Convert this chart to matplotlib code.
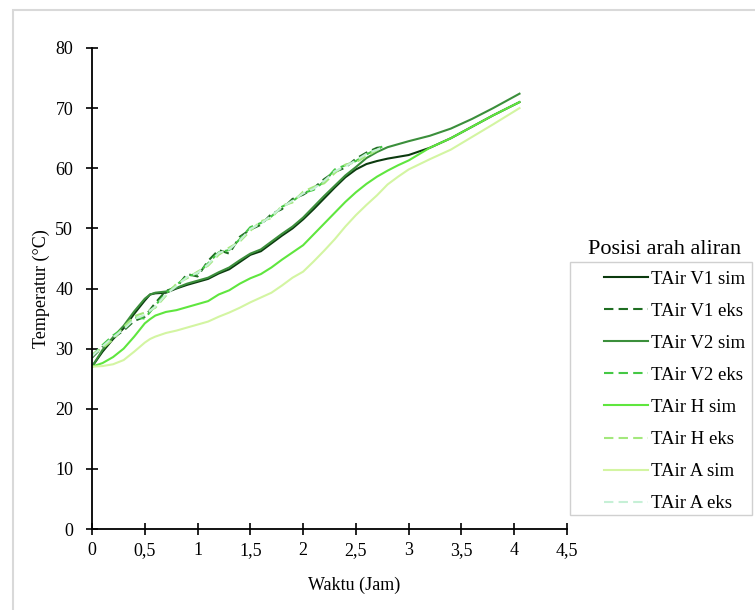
import matplotlib
matplotlib.use("Agg")
import matplotlib.pyplot as plt
from matplotlib.patches import Rectangle

plt.rcParams['font.family'] = ['Liberation Serif', 'DejaVu Serif']

# waktu (jam) untuk kurva simulasi
t_sim = [0, 0.1, 0.2, 0.3, 0.4, 0.5, 0.55, 0.6, 0.7, 0.8, 0.9, 1.0, 1.1, 1.2, 1.3,
         1.4, 1.5, 1.6, 1.7, 1.8, 1.9, 2.0, 2.1, 2.2, 2.3, 2.4, 2.5, 2.6, 2.7,
         2.8, 2.9, 3.0, 3.2, 3.4, 3.6, 3.8, 4.05]
v1_sim = [27.0, 29.5, 31.6, 33.4, 35.8, 38.0, 39.0, 39.2, 39.3, 40.0, 40.6, 41.1, 41.6,
          42.5, 43.2, 44.4, 45.6, 46.2, 47.5, 48.8, 50.0, 51.5, 53.2, 55.0, 56.8,
          58.5, 59.8, 60.7, 61.2, 61.6, 61.9, 62.2, 63.4, 65.0, 66.9, 68.8, 71.0]
v2_sim = [27.0, 29.8, 31.9, 33.8, 36.2, 38.3, 39.0, 39.3, 39.5, 40.1, 40.8, 41.3, 41.8,
          42.7, 43.5, 44.7, 45.8, 46.5, 47.8, 49.1, 50.3, 51.8, 53.6, 55.4, 57.1,
          58.8, 60.2, 61.7, 62.7, 63.5, 64.0, 64.5, 65.4, 66.6, 68.2, 70.0, 72.4]
h_sim = [27.0, 27.6, 28.6, 30.0, 32.0, 34.2, 34.9, 35.5, 36.1, 36.4, 36.9, 37.4, 37.9,
         39.0, 39.7, 40.8, 41.7, 42.4, 43.5, 44.8, 46.0, 47.2, 49.0, 50.8, 52.6,
         54.4, 56.0, 57.4, 58.6, 59.6, 60.5, 61.3, 63.4, 65.0, 66.9, 68.8, 71.0]
a_sim = [27.0, 27.1, 27.4, 28.1, 29.5, 31.0, 31.6, 32.0, 32.6, 33.0, 33.5, 34.0, 34.5,
         35.3, 36.0, 36.8, 37.7, 38.5, 39.3, 40.5, 41.8, 42.8, 44.5, 46.3, 48.2,
         50.3, 52.2, 53.9, 55.5, 57.3, 58.6, 59.8, 61.5, 63.1, 65.2, 67.3, 70.0]

# waktu (jam) untuk data eksperimen
t_eks = [0, 0.1, 0.2, 0.3, 0.4, 0.5, 0.6, 0.7, 0.8, 0.9, 1.0, 1.1, 1.2, 1.3, 1.4,
         1.5, 1.6, 1.7, 1.8, 1.9, 2.0, 2.1, 2.2, 2.3, 2.4, 2.5, 2.6, 2.7, 2.75]
v1_eks = [28.5, 30.3, 31.8, 33.0, 34.6, 35.3, 37.6, 39.6, 40.2, 42.4, 42.0, 44.6, 46.4,
          45.8, 48.6, 49.8, 50.6, 52.4, 53.2, 54.9, 55.6, 56.7, 58.2, 59.4, 60.1,
          61.6, 62.6, 63.4, 63.5]
v2_eks = [28.8, 30.6, 32.2, 33.4, 35.2, 35.0, 37.2, 39.2, 40.6, 42.0, 42.5, 44.2, 46.0,
          46.4, 48.2, 50.2, 50.9, 52.0, 53.6, 54.5, 55.9, 56.4, 57.8, 59.8, 60.5,
          61.2, 62.3, 63.2, 63.6]
h_eks = [29.0, 30.1, 31.5, 33.6, 35.4, 36.0, 36.8, 38.8, 40.8, 41.7, 42.8, 43.8, 45.6,
         46.8, 47.8, 49.6, 51.2, 51.7, 53.8, 54.3, 56.1, 56.9, 57.5, 59.2, 60.6,
         61.0, 62.0, 63.0, 63.4]
a_eks = [28.7, 30.4, 31.9, 33.2, 34.9, 35.6, 37.0, 39.0, 40.4, 41.9, 42.6, 44.0, 45.9,
         46.5, 48.0, 49.9, 50.8, 52.1, 53.5, 54.6, 55.8, 56.6, 57.9, 59.5, 60.3,
         61.3, 62.4, 63.1, 63.5]

series = [
    ("TAir V1 sim", t_sim, v1_sim, "#0b3a0e", "-"),
    ("TAir V1 eks", t_eks, v1_eks, "#1f6e22", "--"),
    ("TAir V2 sim", t_sim, v2_sim, "#3b8f3b", "-"),
    ("TAir V2 eks", t_eks, v2_eks, "#45c845", "--"),
    ("TAir H sim", t_sim, h_sim, "#5fe63e", "-"),
    ("TAir H eks", t_eks, h_eks, "#a3e87c", "--"),
    ("TAir A sim", t_sim, a_sim, "#d3f5a2", "-"),
    ("TAir A eks", t_eks, a_eks, "#c6f0d6", "--"),
]

fig = plt.figure(figsize=(7.55, 6.1), dpi=100)
ax = fig.add_axes([92 / 755, 1 - 529 / 610, 475 / 755, 481 / 610])

for label, t, y, color, ls in series:
    if ls == "--":
        ax.plot(t, y, color=color, lw=1.5, ls=(0, (4.5, 2.5)), label=label)
    else:
        ax.plot(t, y, color=color, lw=1.5, label=label)

ax.set_xlim(0, 4.5)
ax.set_ylim(0, 80)
xticks = [0, 0.5, 1, 1.5, 2, 2.5, 3, 3.5, 4, 4.5]
ax.set_xticks(xticks)
ax.set_xticklabels(["0", "0,5", "1", "1,5", "2", "2,5", "3", "3,5", "4", "4,5"])
ax.set_yticks(range(0, 81, 10))
ax.tick_params(direction="inout", length=9, width=1.2, labelsize=13)
ax.tick_params(axis="x", pad=5)
ax.tick_params(axis="y", pad=9)
for s in ["top", "right"]:
    ax.spines[s].set_visible(False)
for s in ["left", "bottom"]:
    ax.spines[s].set_linewidth(1.3)

fig.text(308 / 755, 1 - 585 / 610, "Waktu (Jam)", ha="left", va="center", fontsize=13)
ax.set_ylabel("Temperatur (°C)", fontsize=13, labelpad=4)

# kotak legenda digambar terpisah, judul di atasnya
fig.patches.append(Rectangle((570 / 755, 1 - 515 / 610), 182 / 755, 253 / 610,
                             transform=fig.transFigure, fill=False,
                             edgecolor="#d0d0d0", lw=1.0))
leg = fig.legend(loc="upper left", bbox_to_anchor=(595 / 755, 1 - 261 / 610),
                 fontsize=13.5, frameon=False, handlelength=2.3,
                 handletextpad=0.2, labelspacing=0.80, borderpad=0)
fig.text(665 / 755, 1 - 249 / 610, "Posisi arah aliran", ha="center", va="center",
         fontsize=16)

fig.patches.append(Rectangle((13 / 755, -0.1), 1.2, 1 - 10 / 610 + 0.1,
                             transform=fig.transFigure, fill=False,
                             edgecolor="#d9d9d9", lw=1.5))

fig.savefig("out.png", dpi=100)
